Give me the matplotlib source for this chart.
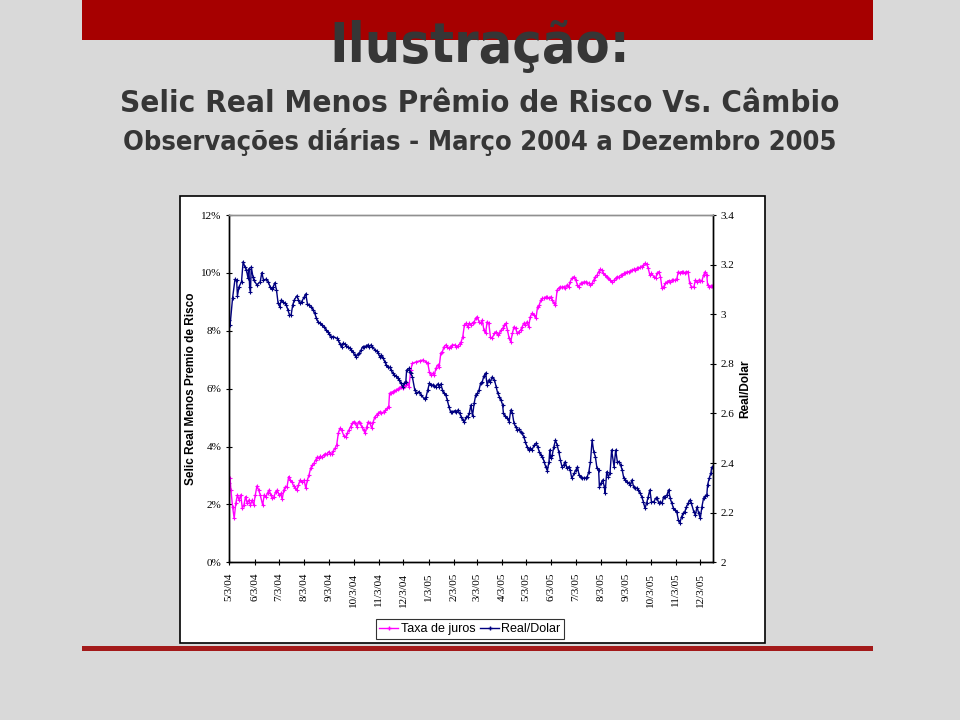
import numpy as np
import matplotlib
matplotlib.use("Agg")
import matplotlib.pyplot as plt
from matplotlib.patches import Rectangle
from matplotlib.lines import Line2D

# daily obs: days counted from 2004-05-03
usd_days = [0, 1, 4, 7, 9, 10, 12, 15, 17, 19,
            21, 23, 24, 25, 26, 27, 29, 30, 34, 38,
            40, 42, 45, 48, 50, 52, 54, 56, 58, 60,
            62, 64, 66, 68, 70, 72, 74, 76, 78, 80,
            83, 85, 87, 89, 92, 94, 96, 98, 101, 103,
            105, 107, 109, 111, 114, 117, 119, 121, 123, 125,
            128, 132, 134, 136, 138, 140, 142, 144, 146, 148,
            150, 152, 154, 156, 158, 160, 162, 164, 166, 168,
            170, 172, 174, 176, 179, 181, 183, 185, 187, 189,
            191, 193, 195, 197, 199, 201, 203, 205, 207, 209,
            211, 213, 215, 217, 218, 221, 222, 223, 225, 228,
            230, 233, 236, 240, 242, 244, 246, 248, 250, 252,
            254, 256, 258, 260, 262, 264, 266, 268, 270, 272,
            274, 277, 279, 281, 283, 285, 287, 289, 291, 293,
            295, 297, 299, 301, 303, 305, 307, 309, 311, 313,
            315, 317, 319, 321, 323, 326, 328, 330, 332, 334,
            336, 337, 339, 342, 344, 346, 348, 350, 352, 354,
            356, 358, 360, 362, 364, 366, 368, 370, 372, 375,
            377, 379, 381, 383, 385, 387, 389, 391, 393, 394,
            395, 397, 399, 401, 403, 405, 407, 409, 411, 413,
            415, 417, 419, 421, 424, 426, 428, 430, 432, 434,
            436, 438, 440, 442, 444, 446, 448, 450, 452, 454,
            455, 457, 459, 461, 462, 464, 466, 468, 470, 473,
            475, 477, 479, 481, 483, 485, 487, 489, 491, 493,
            495, 497, 499, 501, 503, 505, 507, 509, 511, 513,
            515, 517, 519, 522, 524, 526, 528, 530, 532, 534,
            536, 538, 540, 542, 544, 546, 548, 550, 552, 554,
            556, 558, 560, 562, 564, 566, 568, 571, 573, 575,
            577, 579, 581, 583, 585, 587, 588, 590, 592, 593]
usd_brl = [2.977, 2.957, 3.065, 3.141, 3.138, 3.074, 3.111, 3.131, 3.212, 3.192,
           3.179, 3.146, 3.183, 3.111, 3.091, 3.191, 3.152, 3.138, 3.118, 3.131,
           3.168, 3.138, 3.141, 3.131, 3.111, 3.101, 3.111, 3.127, 3.098, 3.044,
           3.031, 3.058, 3.051, 3.044, 3.038, 3.017, 2.997, 2.997, 3.038, 3.058,
           3.074, 3.058, 3.044, 3.051, 3.069, 3.082, 3.042, 3.038, 3.031, 3.017,
           3.004, 2.984, 2.970, 2.964, 2.957, 2.950, 2.937, 2.930, 2.921, 2.910,
           2.910, 2.903, 2.896, 2.880, 2.869, 2.883, 2.880, 2.872, 2.869, 2.863,
           2.856, 2.849, 2.836, 2.829, 2.839, 2.843, 2.856, 2.869, 2.867, 2.872,
           2.876, 2.869, 2.876, 2.869, 2.856, 2.853, 2.843, 2.829, 2.836, 2.823,
           2.809, 2.796, 2.789, 2.786, 2.775, 2.762, 2.755, 2.751, 2.742, 2.735,
           2.722, 2.708, 2.722, 2.728, 2.775, 2.782, 2.769, 2.762, 2.748, 2.695,
           2.681, 2.688, 2.675, 2.657, 2.668, 2.695, 2.722, 2.715, 2.715, 2.711,
           2.708, 2.719, 2.708, 2.719, 2.695, 2.681, 2.675, 2.654, 2.627, 2.607,
           2.605, 2.611, 2.605, 2.614, 2.601, 2.587, 2.574, 2.567, 2.584, 2.587,
           2.601, 2.634, 2.590, 2.641, 2.675, 2.681, 2.695, 2.722, 2.728, 2.751,
           2.763, 2.715, 2.735, 2.728, 2.747, 2.735, 2.708, 2.681, 2.668, 2.654,
           2.634, 2.601, 2.590, 2.581, 2.567, 2.614, 2.601, 2.560, 2.547, 2.533,
           2.536, 2.527, 2.520, 2.506, 2.486, 2.466, 2.453, 2.460, 2.453, 2.473,
           2.480, 2.466, 2.446, 2.433, 2.426, 2.406, 2.385, 2.369, 2.406, 2.453,
           2.419, 2.433, 2.466, 2.493, 2.473, 2.446, 2.413, 2.385, 2.392, 2.406,
           2.379, 2.385, 2.372, 2.339, 2.359, 2.372, 2.385, 2.352, 2.345, 2.339,
           2.339, 2.339, 2.345, 2.365, 2.406, 2.493, 2.446, 2.426, 2.379, 2.372,
           2.305, 2.319, 2.332, 2.305, 2.278, 2.365, 2.345, 2.359, 2.453, 2.385,
           2.453, 2.406, 2.406, 2.392, 2.372, 2.339, 2.332, 2.325, 2.319, 2.312,
           2.332, 2.305, 2.298, 2.298, 2.292, 2.278, 2.265, 2.244, 2.218, 2.238,
           2.265, 2.292, 2.244, 2.244, 2.258, 2.258, 2.238, 2.244, 2.238, 2.265,
           2.265, 2.271, 2.292, 2.258, 2.238, 2.218, 2.211, 2.204, 2.171, 2.160,
           2.184, 2.198, 2.204, 2.224, 2.238, 2.251, 2.238, 2.204, 2.191, 2.224,
           2.198, 2.177, 2.224, 2.258, 2.267, 2.271, 2.312, 2.339, 2.359, 2.383]

juros_days = [0, 1, 2, 4, 6, 8, 10, 12, 14, 16,
              18, 20, 22, 24, 26, 28, 30, 32, 34, 36,
              38, 41, 43, 45, 47, 49, 51, 53, 55, 57,
              59, 61, 63, 65, 67, 69, 71, 73, 75, 77,
              79, 81, 83, 85, 87, 89, 92, 94, 96, 98,
              100, 102, 104, 106, 108, 110, 112, 114, 116, 118,
              120, 122, 124, 126, 128, 130, 132, 134, 136, 138,
              141, 143, 145, 147, 149, 151, 153, 155, 157, 159,
              161, 163, 165, 167, 169, 171, 173, 175, 177, 179,
              181, 183, 185, 187, 190, 192, 194, 196, 197, 199,
              201, 203, 205, 207, 209, 211, 213, 215, 217, 219,
              221, 223, 225, 230, 234, 238, 242, 244, 246, 248,
              250, 252, 254, 256, 258, 260, 262, 264, 266, 268,
              270, 272, 274, 277, 279, 281, 283, 285, 287, 289,
              291, 293, 295, 297, 299, 301, 303, 305, 307, 309,
              311, 313, 315, 317, 319, 321, 323, 326, 328, 330,
              332, 334, 336, 338, 340, 342, 344, 346, 348, 350,
              352, 354, 356, 358, 360, 362, 364, 366, 368, 370,
              372, 375, 377, 379, 381, 383, 385, 387, 389, 391,
              393, 395, 397, 399, 401, 403, 405, 407, 409, 411,
              413, 415, 417, 419, 421, 424, 426, 428, 430, 432,
              434, 436, 438, 440, 442, 444, 446, 448, 450, 452,
              454, 456, 458, 460, 462, 464, 466, 468, 470, 473,
              475, 477, 479, 481, 483, 485, 487, 489, 491, 493,
              495, 497, 499, 501, 503, 505, 507, 509, 511, 513,
              515, 517, 519, 522, 524, 526, 528, 530, 532, 534,
              536, 538, 540, 542, 544, 546, 548, 550, 552, 554,
              556, 558, 560, 562, 564, 566, 568, 571, 573, 575,
              577, 579, 581, 583, 585, 587, 588, 590, 592, 593]
juros_pct = [2.73, 2.90, 2.50, 1.92, 1.52, 2.04, 2.33, 2.15, 2.33, 1.87,
             1.98, 2.27, 2.04, 2.15, 1.98, 2.15, 1.98, 2.33, 2.64, 2.50,
             2.33, 1.98, 2.33, 2.25, 2.40, 2.50, 2.33, 2.21, 2.27, 2.44,
             2.50, 2.33, 2.38, 2.18, 2.50, 2.61, 2.61, 2.96, 2.84, 2.78,
             2.64, 2.56, 2.50, 2.67, 2.84, 2.78, 2.84, 2.56, 2.84, 3.02,
             3.25, 3.36, 3.42, 3.53, 3.63, 3.59, 3.67, 3.63, 3.71, 3.74,
             3.74, 3.82, 3.74, 3.74, 3.86, 3.94, 4.05, 4.46, 4.63, 4.57,
             4.36, 4.32, 4.46, 4.57, 4.68, 4.80, 4.86, 4.80, 4.68, 4.86,
             4.80, 4.68, 4.57, 4.46, 4.68, 4.86, 4.80, 4.63, 4.86, 5.03,
             5.09, 5.15, 5.20, 5.15, 5.20, 5.26, 5.32, 5.38, 5.84, 5.86,
             5.89, 5.93, 5.95, 5.98, 6.01, 6.07, 6.01, 6.09, 6.12, 6.18,
             6.07, 6.64, 6.87, 6.93, 6.96, 6.99, 6.93, 6.87, 6.58, 6.47,
             6.53, 6.47, 6.70, 6.82, 6.76, 7.22, 7.28, 7.45, 7.51, 7.45,
             7.39, 7.45, 7.51, 7.51, 7.45, 7.47, 7.54, 7.62, 7.79, 8.20,
             8.26, 8.14, 8.26, 8.20, 8.28, 8.31, 8.43, 8.48, 8.31, 8.26,
             8.37, 8.02, 7.91, 8.31, 8.26, 7.79, 7.74, 7.91, 7.97, 7.85,
             7.91, 8.02, 8.08, 8.20, 8.26, 8.02, 7.74, 7.62, 7.91, 8.14,
             8.08, 7.91, 7.97, 8.02, 8.14, 8.26, 8.20, 8.31, 8.14, 8.48,
             8.60, 8.54, 8.43, 8.83, 8.89, 9.06, 9.12, 9.12, 9.17, 9.15,
             9.12, 9.17, 9.06, 8.95, 8.89, 9.41, 9.47, 9.52, 9.50, 9.52,
             9.47, 9.58, 9.52, 9.69, 9.81, 9.87, 9.75, 9.58, 9.52, 9.64,
             9.64, 9.69, 9.69, 9.64, 9.64, 9.58, 9.64, 9.75, 9.87, 9.92,
             10.04, 10.12, 10.10, 9.98, 9.92, 9.87, 9.81, 9.75, 9.69, 9.75,
             9.81, 9.87, 9.85, 9.92, 9.92, 9.98, 9.98, 10.04, 10.04, 10.06,
             10.10, 10.12, 10.10, 10.16, 10.16, 10.19, 10.21, 10.27, 10.33, 10.30,
             10.16, 9.92, 9.98, 9.87, 9.81, 10.00, 10.04, 9.87, 9.47, 9.52,
             9.64, 9.69, 9.73, 9.69, 9.75, 9.75, 9.75, 9.78, 10.04, 10.00,
             10.04, 10.04, 10.00, 10.04, 10.04, 9.64, 9.52, 9.50, 9.75, 9.69,
             9.75, 9.73, 9.73, 9.92, 10.04, 9.92, 9.58, 9.52, 9.54, 9.54]

start = np.datetime64("2004-05-03")
tick_dates = ["2004-05-03", "2004-06-03", "2004-07-03", "2004-08-03", "2004-09-03",
              "2004-10-03", "2004-11-03", "2004-12-03", "2005-01-03", "2005-02-03",
              "2005-03-03", "2005-04-03", "2005-05-03", "2005-06-03", "2005-07-03",
              "2005-08-03", "2005-09-03", "2005-10-03", "2005-11-03", "2005-12-03"]
tick_labels = ["5/3/04", "6/3/04", "7/3/04", "8/3/04", "9/3/04", "10/3/04", "11/3/04",
               "12/3/04", "1/3/05", "2/3/05", "3/3/05", "4/3/05", "5/3/05", "6/3/05",
               "7/3/05", "8/3/05", "9/3/05", "10/3/05", "11/3/05", "12/3/05"]
pct_ticks = [0, 2, 4, 6, 8, 10, 12]
usd_ticks = [2, 2.2, 2.4, 2.6, 2.8, 3, 3.2, 3.4]

MAGENTA = "#ff00ff"
NAVY = "#000080"
RED = "#a60000"
SERIF = ["Liberation Serif", "DejaVu Serif"]
SANS = ["Liberation Sans", "DejaVu Sans"]

W, H = 960, 720
fig = plt.figure(figsize=(W / 100, H / 100), dpi=100, facecolor="#d9d9d9")

def box(x0, y0, x1, y1, **kw):
    # pixel box (top-left origin) -> figure rectangle
    fig.patches.append(Rectangle((x0 / W, 1 - y1 / H), (x1 - x0) / W, (y1 - y0) / H,
                                 transform=fig.transFigure, figure=fig, **kw))

box(82, 0, 873, 40, facecolor=RED, edgecolor="none", zorder=-2)
box(82, 646, 873, 651, facecolor="#a31a1a", edgecolor="none", zorder=-2)
box(180, 196, 765, 643, facecolor="white", edgecolor="black", linewidth=1.2, zorder=-2)

tcol = "#363636"
tkw = dict(ha="center", va="baseline", fontweight="bold", family="DejaVu Sans",
           fontstretch="condensed", color=tcol)
fig.text(0.5, 1 - 62 / H, "Ilustração:", fontsize=40, **tkw)
fig.text(0.5, 1 - 112 / H, "Selic Real Menos Prêmio de Risco Vs. Câmbio", fontsize=22.5, **tkw)
fig.text(0.5, 1 - 150 / H, "Observações diárias - Março 2004 a Dezembro 2005", fontsize=19.5, **tkw)

ax = fig.add_axes([229.3 / W, 1 - 562.3 / H, (713.3 - 229.3) / W, (562.3 - 215) / H])
ax.set_facecolor("white")
ax2 = ax.twinx()

xd_j = start + np.array(juros_days).astype("timedelta64[D]")
xd_u = start + np.array(usd_days).astype("timedelta64[D]")
ax.plot(xd_j, juros_pct, color=MAGENTA, lw=1.0, marker="+", ms=2.5, mew=0.8)
ax2.plot(xd_u, usd_brl, color=NAVY, lw=1.0, marker="+", ms=2.5, mew=0.8)

ax.set_xlim(start, start + np.timedelta64(595, "D"))
ax.set_ylim(0, 12)
ax2.set_ylim(2, 3.4)

ticks = np.array(tick_dates, dtype="datetime64[D]")
ax.set_xticks(ticks)
ax.set_xticklabels(tick_labels, rotation=90, family=SERIF, fontsize=8)
ax.set_yticks(pct_ticks)
ax.set_yticklabels([f"{t}%" for t in pct_ticks], family=SERIF, fontsize=8)
ax2.set_yticks(usd_ticks)
ax2.set_yticklabels([f"{t:g}" for t in usd_ticks], family=SERIF, fontsize=8)

for a in (ax, ax2):
    a.tick_params(direction="inout", length=5, width=0.8, colors="black", pad=3)
    for s in ("left", "right", "bottom"):
        a.spines[s].set_color("black")
        a.spines[s].set_linewidth(1.0)
    a.spines["top"].set_color("#909090")
    a.spines["top"].set_linewidth(1.0)
ax.tick_params(axis="x", pad=5)

fig.text(191 / W, 1 - 389 / H, "Selic Real Menos Premio de Risco", rotation=90,
         ha="center", va="center", fontsize=8.5, fontweight="bold", family=SANS)
fig.text(745 / W, 1 - 389 / H, "Real/Dolar", rotation=90, ha="center", va="center",
         fontsize=8.5, fontweight="bold", family=SANS)

handles = [Line2D([], [], color=MAGENTA, lw=1.0, marker="+", ms=3),
           Line2D([], [], color=NAVY, lw=1.0, marker="+", ms=3)]
leg = fig.legend(handles, ["Taxa de juros", "Real/Dolar"], loc="center",
                 bbox_to_anchor=(470 / W, 1 - 629 / H), ncol=2, frameon=True,
                 fancybox=False, prop={"family": SANS, "size": 9}, handlelength=1.5,
                 handletextpad=0.2, columnspacing=0.4, borderpad=0.3, borderaxespad=0)
leg.get_frame().set_edgecolor("black")
leg.get_frame().set_linewidth(0.8)

fig.savefig("out.png", dpi=100, facecolor=fig.get_facecolor())
